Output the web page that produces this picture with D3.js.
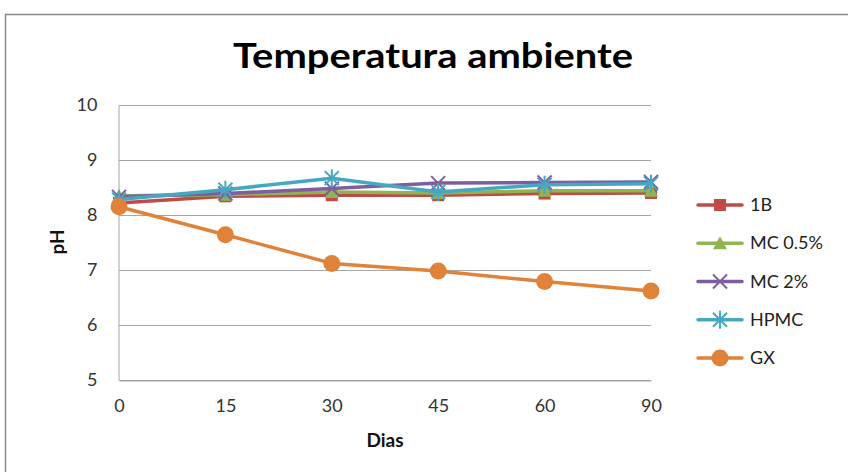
<!DOCTYPE html>
<html>
<head>
<meta charset="utf-8">
<script src="https://cdn.jsdelivr.net/npm/d3@7"></script>
<style>
  html, body { margin: 0; padding: 0; background: #fff; }
  svg { display: block; font-family: Lato, "Open Sans", sans-serif; }
</style>
</head>
<body>
<svg id="chart" width="848" height="472"></svg>
<script>
// pH over storage time at room temperature
const dias = ["0", "15", "30", "45", "60", "90"];
const seriesNames = ["1B", "MC 0.5%", "MC 2%", "HPMC", "GX"];
const ph1B    = [8.22, 8.34, 8.36, 8.36, 8.39, 8.40];
const phMC05  = [8.35, 8.37, 8.42, 8.40, 8.44, 8.44];
const phMC2   = [8.33, 8.39, 8.48, 8.58, 8.59, 8.60];
const phHPMC  = [8.28, 8.46, 8.67, 8.42, 8.55, 8.57];
const phGX    = [8.15, 7.64, 7.12, 6.98, 6.79, 6.62];
const yTicks  = [5, 6, 7, 8, 9, 10];

const colors  = ["#BE4B48", "#8FB450", "#7D5FA0", "#45A8C2", "#E0823A"];
const markers = ["square", "triangle", "x", "star", "circle"];
const values  = [ph1B, phMC05, phMC2, phHPMC, phGX];

const svg = d3.select("#chart");

// outer chart frame
svg.append("rect")
  .attr("x", 5.5).attr("y", 14.5)
  .attr("width", 900).attr("height", 600)
  .attr("fill", "none").attr("stroke", "#8a8a8a").attr("stroke-width", 1.5);

const x = d3.scalePoint().domain(dias).range([119, 651]);
const y = d3.scaleLinear().domain([5, 10]).range([380, 105]);

// horizontal gridlines
svg.append("g").selectAll("line").data(yTicks).join("line")
  .attr("x1", 119).attr("x2", 651)
  .attr("y1", d => y(d) + 0.5).attr("y2", d => y(d) + 0.5)
  .attr("stroke", "#a6a6a6").attr("stroke-width", 1);

// y axis
const yAxis = svg.append("g").attr("transform", "translate(118.5,0)")
  .call(d3.axisLeft(y).tickValues(yTicks).tickFormat(d3.format("d")).tickSize(0).tickPadding(21));
yAxis.select(".domain").attr("stroke", "#a6a6a6");
yAxis.selectAll("text").attr("font-size", 18).attr("fill", "#333")
  .attr("font-family", "Lato, sans-serif");

// x axis
const xAxis = svg.append("g").attr("transform", "translate(0,380.5)")
  .call(d3.axisBottom(x).tickSize(0).tickPadding(19));
xAxis.select(".domain").attr("stroke", "#a6a6a6");
xAxis.selectAll("text").attr("font-size", 18).attr("fill", "#333")
  .attr("font-family", "Lato, sans-serif");

// title and axis titles
svg.append("text").attr("x", 433).attr("y", 68).attr("text-anchor", "middle")
  .attr("font-size", 34).attr("font-weight", "bold").attr("fill", "#000")
  .attr("textLength", 400).attr("lengthAdjust", "spacingAndGlyphs")
  .text("Temperatura ambiente");
svg.append("text").attr("x", 385).attr("y", 447).attr("text-anchor", "middle")
  .attr("font-size", 19).attr("font-weight", "bold").attr("fill", "#111")
  .text("Dias");
svg.append("text").attr("transform", "translate(64,242) rotate(-90)")
  .attr("text-anchor", "middle")
  .attr("font-size", 19).attr("font-weight", "bold").attr("fill", "#111")
  .text("pH");

function drawMarker(g, type, color) {
  if (type === "square") {
    g.append("rect").attr("x", -6).attr("y", -6).attr("width", 12).attr("height", 12).attr("fill", color);
  } else if (type === "triangle") {
    g.append("path").attr("d", "M0,-7L7,6L-7,6Z").attr("fill", color);
  } else if (type === "x") {
    g.append("path").attr("d", "M-7,-7L7,7M-7,7L7,-7").attr("stroke", color).attr("stroke-width", 2);
  } else if (type === "star") {
    g.append("path").attr("d", "M-7,-7L7,7M-7,7L7,-7M0,-9L0,9").attr("stroke", color).attr("stroke-width", 2);
  } else if (type === "circle") {
    g.append("circle").attr("r", 8.5).attr("fill", color);
  }
}

const line = d3.line().x((d, i) => x(dias[i])).y(d => y(d));

seriesNames.forEach((name, s) => {
  const g = svg.append("g");
  g.append("path").datum(values[s]).attr("d", line)
    .attr("fill", "none").attr("stroke", colors[s]).attr("stroke-width", 3.5)
    .attr("stroke-linejoin", "round");
  values[s].forEach((v, i) => {
    const m = g.append("g").attr("transform", `translate(${x(dias[i])},${y(v)})`);
    drawMarker(m, markers[s], colors[s]);
  });
});

// legend
const legendY = d3.scalePoint().domain(seriesNames).range([205, 358]);
seriesNames.forEach((name, s) => {
  const ly = legendY(name);
  const g = svg.append("g");
  g.append("line").attr("x1", 698).attr("x2", 742).attr("y1", ly).attr("y2", ly)
    .attr("stroke", colors[s]).attr("stroke-width", 3.5).attr("stroke-linecap", "round");
  const m = g.append("g").attr("transform", `translate(720,${ly})`);
  drawMarker(m, markers[s], colors[s]);
  g.append("text").attr("x", 750).attr("y", ly + 6)
    .attr("font-size", 18).attr("fill", "#222").text(name);
});
</script>
</body>
</html>
